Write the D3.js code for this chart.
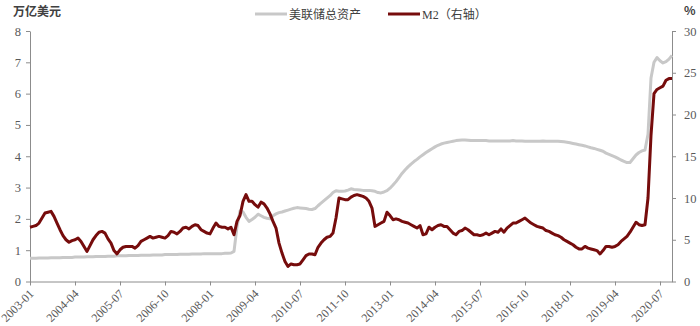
<!DOCTYPE html>
<html>
<head>
<meta charset="utf-8">
<script src="https://cdn.jsdelivr.net/npm/d3@7"></script>
<style>
  body { margin: 0; background: #fff; }
  svg { display: block; }
  .axis path, .axis line { stroke: #8c8c8c; }
  .axis text { fill: #595959; font-family: "Liberation Serif", "Times New Roman", serif; font-size: 12.5px; }
  .xaxis text { font-size: 12px; }
</style>
</head>
<body>
<svg id="chart" width="700" height="326"></svg>
<script>
// monthly categories 2003-01 .. 2020-11
const months = [];
for (let y = 2003; y <= 2020; y++) {
  for (let m = 1; m <= 12; m++) {
    if (y === 2020 && m > 11) break;
    months.push(y + '-' + String(m).padStart(2, '0'));
  }
}

// x tick labels (every 15 months)
const tickLabels = ['2003-01', '2004-04', '2005-07', '2006-10', '2008-01', '2009-04', '2010-07',
  '2011-10', '2013-01', '2014-04', '2015-07', '2016-10', '2018-01', '2019-04', '2020-07'];

const leftTicks = [0, 1, 2, 3, 4, 5, 6, 7, 8];
const rightTicks = [0, 5, 10, 15, 20, 25, 30];

// Fed total assets, trillion USD (left axis)
const fedAssets = [
  0.74, 0.74, 0.74, 0.75, 0.75, 0.75, 0.75, 0.76, 0.76, 0.76, 0.76, 0.77, // 2003
  0.77, 0.77, 0.77, 0.78, 0.78, 0.78, 0.78, 0.79, 0.79, 0.79, 0.80, 0.80, // 2004
  0.80, 0.80, 0.81, 0.81, 0.81, 0.82, 0.82, 0.82, 0.82, 0.83, 0.83, 0.83, // 2005
  0.83, 0.84, 0.84, 0.84, 0.84, 0.85, 0.85, 0.85, 0.85, 0.86, 0.86, 0.86, // 2006
  0.86, 0.86, 0.87, 0.87, 0.87, 0.87, 0.88, 0.88, 0.88, 0.88, 0.89, 0.89, // 2007
  0.89, 0.89, 0.89, 0.89, 0.89, 0.90, 0.90, 0.91, 0.96, 1.75, 2.25, 2.22, // 2008
  2.05, 1.92, 1.98, 2.05, 2.15, 2.10, 2.05, 2.02, 2.00, 2.10, 2.16, 2.20, // 2009
  2.22, 2.25, 2.28, 2.31, 2.34, 2.36, 2.35, 2.34, 2.33, 2.31, 2.30, 2.33, // 2010
  2.42, 2.50, 2.58, 2.66, 2.74, 2.84, 2.90, 2.88, 2.88, 2.89, 2.92, 2.96, // 2011
  2.94, 2.93, 2.92, 2.91, 2.91, 2.91, 2.90, 2.88, 2.84, 2.83, 2.86, 2.90, // 2012
  2.98, 3.08, 3.19, 3.32, 3.45, 3.56, 3.66, 3.75, 3.83, 3.90, 3.98, 4.05, // 2013
  4.12, 4.18, 4.24, 4.30, 4.35, 4.39, 4.42, 4.44, 4.46, 4.48, 4.50, 4.51, // 2014
  4.52, 4.52, 4.51, 4.50, 4.50, 4.50, 4.50, 4.50, 4.50, 4.49, 4.49, 4.49, // 2015
  4.49, 4.49, 4.49, 4.49, 4.49, 4.50, 4.49, 4.49, 4.49, 4.48, 4.48, 4.48, // 2016
  4.48, 4.48, 4.48, 4.49, 4.48, 4.48, 4.48, 4.48, 4.48, 4.47, 4.46, 4.45, // 2017
  4.43, 4.41, 4.39, 4.37, 4.35, 4.33, 4.30, 4.27, 4.25, 4.22, 4.19, 4.16, // 2018
  4.10, 4.06, 4.02, 3.98, 3.93, 3.88, 3.84, 3.80, 3.80, 3.92, 4.04, 4.12, // 2019
  4.17, 4.20, 4.70, 6.50, 7.00, 7.15, 7.05, 6.98, 7.02, 7.10, 7.22        // 2020
];

// M2 growth, % (right axis)
const m2Growth = [
  6.5, 6.6, 6.7, 7.0, 7.6, 8.2, 8.3, 8.4, 7.8, 7.0, 6.2, 5.5,       // 2003
  5.0, 4.7, 4.9, 5.0, 5.2, 4.8, 4.2, 3.6, 4.3, 5.0, 5.5, 5.9,       // 2004
  6.0, 5.8, 5.1, 4.6, 3.7, 3.3, 3.8, 4.1, 4.2, 4.2, 4.2, 4.0,       // 2005
  4.3, 4.8, 5.0, 5.2, 5.4, 5.2, 5.3, 5.4, 5.3, 5.2, 5.5, 6.0,       // 2006
  5.9, 5.7, 6.0, 6.4, 6.5, 6.3, 6.6, 6.8, 6.7, 6.2, 6.0, 5.8,       // 2007
  5.7, 6.4, 7.0, 6.6, 6.5, 6.5, 6.3, 6.5, 5.6, 7.2, 7.9, 9.6,       // 2008
  10.4, 9.6, 9.6, 9.2, 8.9, 9.5, 9.3, 8.8, 8.1, 7.2, 6.4, 4.6,      // 2009
  3.4, 2.4, 1.8, 2.1, 2.0, 2.0, 2.1, 2.6, 3.1, 3.3, 3.3, 3.2,       // 2010
  4.1, 4.6, 5.0, 5.3, 5.4, 5.8, 7.6, 10.0, 9.9, 9.8, 9.8, 10.1,     // 2011
  10.3, 10.4, 10.3, 10.2, 10.0, 9.6, 8.8, 6.6, 6.8, 7.0, 7.2, 8.3,  // 2012
  7.9, 7.4, 7.5, 7.4, 7.2, 7.1, 7.0, 6.8, 6.6, 6.4, 6.7, 5.6,       // 2013
  5.7, 6.5, 6.2, 6.5, 6.7, 6.8, 6.6, 6.6, 6.2, 5.8, 5.6, 6.0,       // 2014
  6.1, 6.4, 6.2, 5.9, 5.6, 5.6, 5.5, 5.6, 5.8, 5.6, 5.8, 6.0,       // 2015
  5.9, 6.3, 5.9, 6.4, 6.7, 7.0, 7.0, 7.2, 7.4, 7.6, 7.3, 7.0,       // 2016
  6.8, 6.6, 6.5, 6.4, 6.1, 6.0, 5.8, 5.6, 5.5, 5.3, 5.0, 4.8,       // 2017
  4.6, 4.4, 4.1, 3.9, 3.9, 4.2, 4.0, 3.9, 3.8, 3.7, 3.3, 3.7,       // 2018
  4.2, 4.2, 4.1, 4.2, 4.4, 4.8, 5.1, 5.4, 5.9, 6.5, 7.1, 6.8,       // 2019
  6.7, 6.8, 10.0, 17.5, 22.5, 23.0, 23.2, 23.4, 24.1, 24.3, 24.3    // 2020
];

const svg = d3.select('#chart');
const plotLeft = 30, plotRight = 672, plotTop = 31, plotBottom = 281.5;
const grey = '#c8c8c8', maroon = '#760c0c';

const x = d3.scalePoint().domain(months).range([plotLeft, plotRight]);
const yL = d3.scaleLinear().domain([0, 8]).range([plotBottom, plotTop]);
const yR = d3.scaleLinear().domain([0, 30]).range([plotBottom, plotTop]);

// axes
svg.append('g')
  .attr('class', 'axis')
  .attr('transform', 'translate(' + plotLeft + ',0)')
  .call(d3.axisLeft(yL).tickValues(leftTicks).tickSize(4).tickSizeOuter(0).tickPadding(5));

svg.append('g')
  .attr('class', 'axis')
  .attr('transform', 'translate(' + plotRight + ',0)')
  .call(d3.axisRight(yR).tickValues(rightTicks).tickSize(4).tickSizeOuter(0).tickPadding(8));

const xAxis = svg.append('g')
  .attr('class', 'axis xaxis')
  .attr('transform', 'translate(0,' + plotBottom + ')')
  .call(d3.axisBottom(x).tickValues(tickLabels).tickSize(4).tickSizeOuter(0));
xAxis.selectAll('text')
  .attr('text-anchor', 'end')
  .attr('dx', null).attr('dy', null)
  .attr('x', 0).attr('y', 0)
  .attr('transform', 'translate(4,13) rotate(-45)');

// lines
const lineL = d3.line().x((d, i) => x(months[i])).y(d => yL(d));
const lineR = d3.line().x((d, i) => x(months[i])).y(d => yR(d));

svg.append('path')
  .datum(fedAssets)
  .attr('d', lineL)
  .attr('fill', 'none')
  .attr('stroke', grey)
  .attr('stroke-width', 3)
  .attr('stroke-linejoin', 'round');

svg.append('path')
  .datum(m2Growth)
  .attr('d', lineR)
  .attr('fill', 'none')
  .attr('stroke', maroon)
  .attr('stroke-width', 3)
  .attr('stroke-linejoin', 'round');

// titles
const labelFont = '"Liberation Serif", "Noto Sans CJK SC", serif';
svg.append('text').attr('x', 13).attr('y', 16)
  .attr('font-family', '"Noto Sans CJK SC", sans-serif').attr('font-size', 12)
  .attr('font-weight', 'bold').attr('fill', '#404040').text('万亿美元');
svg.append('text').attr('x', 684).attr('y', 15)
  .attr('font-family', '"Noto Sans CJK SC", sans-serif').attr('font-size', 12)
  .attr('font-weight', 'bold').attr('fill', '#404040').text('%');

// legend
const legend = [
  { name: '美联储总资产', color: grey, x: 255 },
  { name: 'M2（右轴）', color: maroon, x: 388 }
];
const lg = svg.append('g');
legend.forEach(d => {
  lg.append('line').attr('x1', d.x).attr('x2', d.x + 32).attr('y1', 14).attr('y2', 14)
    .attr('stroke', d.color).attr('stroke-width', 3);
  lg.append('text').attr('x', d.x + 34).attr('y', 18.5)
    .attr('font-family', labelFont).attr('font-size', 12).attr('fill', '#404040')
    .text(d.name);
});
</script>
</body>
</html>
